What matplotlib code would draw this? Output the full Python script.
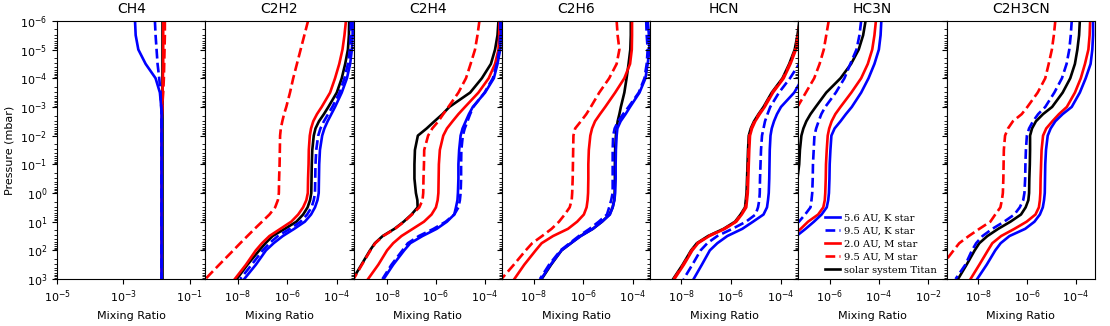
import numpy as np
import matplotlib
matplotlib.use("Agg")
import matplotlib.pyplot as plt
from matplotlib.ticker import NullLocator, LogLocator

# Pressure grid of every profile, log10(mbar)
LOG_P = [-6.0, -5.5, -5.0, -4.5, -4.0, -3.5, -3.0, -2.75, -2.5, -2.25, -2.0,
         -1.5, -1.0, -0.5, 0.0, 0.25, 0.5, 0.75, 1.0, 1.25, 1.5, 1.75, 2.0,
         2.5, 3.0]

SPECIES = ["CH4", "C2H2", "C2H4", "C2H6", "HCN", "HC3N", "C2H3CN"]
MODELS = ["5.6 AU, K star", "9.5 AU, K star", "2.0 AU, M star",
          "9.5 AU, M star", "solar system Titan"]

# ── log10 mixing ratio (None = off the panel) ──
ch4_k56 = [-2.65, -2.63, -2.55, -2.33, -2.03, -1.90, -1.86, -1.85, -1.85, -1.85,
           -1.85, -1.85, -1.85, -1.85, -1.85, -1.85, -1.85, -1.85, -1.85, -1.85,
           -1.85, -1.85, -1.85, -1.85, -1.85]
ch4_k95 = [-2.05, -2.03, -2.00, -1.97, -1.92, -1.88, -1.86, -1.85, -1.85, -1.85,
           -1.85, -1.85, -1.85, -1.85, -1.85, -1.85, -1.85, -1.85, -1.85, -1.85,
           -1.85, -1.85, -1.85, -1.85, -1.85]
ch4_m20 = [-1.80, -1.80, -1.80, -1.80, -1.81, -1.82, -1.83, -1.84, -1.85, -1.85,
           -1.85, -1.85, -1.85, -1.85, -1.85, -1.85, -1.85, -1.85, -1.85, -1.85,
           -1.85, -1.85, -1.85, -1.85, -1.85]
ch4_m95 = [-1.75, -1.75, -1.76, -1.77, -1.78, -1.80, -1.83, -1.84, -1.85, -1.85,
           -1.85, -1.85, -1.85, -1.85, -1.85, -1.85, -1.85, -1.85, -1.85, -1.85,
           -1.85, -1.85, -1.85, -1.85, -1.85]
ch4_titan = [-1.85, -1.85, -1.85, -1.85, -1.85, -1.85, -1.85, -1.85, -1.85, -1.85,
             -1.85, -1.85, -1.85, -1.85, -1.85, -1.85, -1.85, -1.85, -1.85, -1.85,
             -1.85, -1.85, -1.85, -1.85, -1.85]

c2h2_k56 = [-3.36, -3.36, -3.39, -3.46, -3.59, -3.80, -4.07, -4.22, -4.37, -4.50,
            -4.59, -4.68, -4.71, -4.72, -4.73, -4.78, -4.88, -5.04, -5.29, -5.72,
            -6.18, -6.55, -6.86, -7.27, -7.74]
c2h2_k95 = [-3.43, -3.44, -3.47, -3.55, -3.69, -3.89, -4.18, -4.35, -4.52, -4.66,
            -4.75, -4.83, -4.86, -4.87, -4.88, -4.93, -5.02, -5.20, -5.46, -5.90,
            -6.38, -6.72, -6.99, -7.44, -7.90]
c2h2_m20 = [-3.63, -3.69, -3.77, -3.90, -4.07, -4.27, -4.61, -4.80, -4.95, -5.04,
            -5.09, -5.13, -5.14, -5.16, -5.17, -5.23, -5.36, -5.56, -5.84, -6.28,
            -6.72, -7.02, -7.27, -7.67, -8.12]
c2h2_m95 = [-5.16, -5.31, -5.46, -5.61, -5.76, -5.89, -6.04, -6.13, -6.20, -6.26,
            -6.29, -6.30, -6.31, -6.33, -6.34, -6.38, -6.49, -6.72, -7.02, -7.32,
            -7.61, -7.90, -8.18, -8.75, -9.31]
c2h2_titan = [-3.50, -3.51, -3.55, -3.66, -3.80, -4.00, -4.34, -4.52, -4.72, -4.86,
              -4.93, -4.99, -5.01, -5.02, -5.03, -5.08, -5.18, -5.36, -5.63, -6.10,
              -6.59, -6.88, -7.13, -7.61, -8.04]

c2h4_k56 = [-3.34, -3.34, -3.37, -3.48, -3.63, -3.99, -4.49, -4.65, -4.78, -4.91,
            -4.99, -5.05, -5.08, -5.08, -5.10, -5.12, -5.18, -5.25, -5.55, -5.97,
            -6.55, -7.05, -7.30, -7.75, -8.14]
c2h4_k95 = [-3.37, -3.37, -3.40, -3.51, -3.67, -4.01, -4.47, -4.60, -4.71, -4.82,
            -4.90, -4.96, -4.97, -4.97, -4.99, -5.02, -5.08, -5.25, -5.60, -6.10,
            -6.70, -7.15, -7.37, -7.82, -8.19]
c2h4_m20 = [-3.40, -3.41, -3.44, -3.58, -3.84, -4.26, -4.81, -5.08, -5.32, -5.55,
            -5.70, -5.84, -5.88, -5.89, -5.90, -5.93, -6.00, -6.18, -6.49, -6.95,
            -7.41, -7.75, -8.00, -8.36, -8.78]
c2h4_m95 = [-4.22, -4.30, -4.40, -4.58, -4.77, -5.08, -5.49, -5.70, -5.90, -6.15,
            -6.32, -6.48, -6.49, -6.51, -6.52, -6.55, -6.68, -6.98, -7.30, -7.68,
            -8.16, -8.48, -8.68, -9.03, -9.37]
c2h4_titan = [-3.44, -3.48, -3.58, -3.75, -4.12, -4.60, -5.45, -5.73, -6.06, -6.38,
              -6.74, -6.86, -6.88, -6.88, -6.82, -6.76, -6.75, -7.00, -7.32, -7.70,
              -8.18, -8.50, -8.70, -9.05, -9.40]

c2h6_k56 = [-3.41, -3.36, -3.34, -3.41, -3.50, -3.74, -4.12, -4.30, -4.50, -4.63,
            -4.66, -4.69, -4.70, -4.70, -4.72, -4.75, -4.82, -4.93, -5.25, -5.62,
            -6.10, -6.50, -6.88, -7.32, -7.70]
c2h6_k95 = [-3.47, -3.45, -3.41, -3.45, -3.54, -3.77, -4.18, -4.40, -4.60, -4.74,
            -4.80, -4.82, -4.82, -4.82, -4.82, -4.88, -4.96, -5.05, -5.38, -5.75,
            -6.18, -6.55, -6.92, -7.38, -7.75]
c2h6_m20 = [-4.04, -4.04, -4.05, -4.12, -4.35, -4.72, -5.12, -5.33, -5.53, -5.65,
            -5.72, -5.78, -5.80, -5.80, -5.81, -5.83, -5.87, -5.98, -6.25, -6.62,
            -7.22, -7.68, -7.92, -8.38, -8.78]
c2h6_m95 = [-4.66, -4.62, -4.55, -4.66, -4.96, -5.36, -5.70, -5.88, -6.10, -6.33,
            -6.40, -6.41, -6.42, -6.43, -6.45, -6.47, -6.55, -6.75, -6.98, -7.28,
            -7.66, -8.06, -8.32, -8.80, -9.30]
c2h6_titan = [-4.09, -4.09, -4.11, -4.18, -4.26, -4.35, -4.49, -4.55, -4.62, -4.66,
              -4.69, -4.72, -4.73, -4.73, -4.74, -4.76, -4.82, -4.95, -5.25, -5.62,
              -6.12, -6.50, -6.88, -7.30, -7.68]

hcn_k56 = [-1.92, -2.19, -2.53, -2.80, -3.14, -3.47, -4.00, -4.16, -4.28, -4.37,
           -4.42, -4.45, -4.46, -4.47, -4.49, -4.52, -4.56, -4.70, -5.12, -5.55,
           -6.15, -6.55, -6.85, -7.17, -7.50]
hcn_k95 = [-2.46, -2.73, -3.00, -3.27, -3.64, -4.08, -4.43, -4.54, -4.64, -4.70,
           -4.76, -4.80, -4.82, -4.84, -4.85, -4.87, -4.92, -5.02, -5.40, -5.95,
           -6.55, -6.95, -7.22, -7.55, -7.90]
hcn_m20 = [-3.21, -3.29, -3.40, -3.62, -3.89, -4.32, -4.65, -4.85, -5.03, -5.16,
           -5.24, -5.27, -5.29, -5.31, -5.33, -5.36, -5.39, -5.57, -5.79, -6.25,
           -6.87, -7.32, -7.55, -7.89, -8.27]
hcn_m95 = [-3.24, -3.32, -3.43, -3.65, -3.92, -4.35, -4.68, -4.88, -5.06, -5.19,
           -5.27, -5.30, -5.32, -5.34, -5.36, -5.39, -5.42, -5.60, -5.82, -6.28,
           -6.90, -7.35, -7.58, -7.92, -8.30]
hcn_titan = [-3.26, -3.34, -3.45, -3.67, -3.94, -4.37, -4.70, -4.90, -5.08, -5.21,
             -5.29, -5.32, -5.34, -5.36, -5.38, -5.41, -5.44, -5.62, -5.84, -6.30,
             -6.92, -7.37, -7.60, -7.94, -8.32]

hc3n_k56 = [-3.90, -3.93, -4.00, -4.18, -4.42, -4.72, -5.10, -5.34, -5.56, -5.80,
            -5.93, -5.97, -6.00, -6.01, -6.03, -6.06, -6.12, -6.33, -6.64, -6.98,
            -7.35, -7.70, None, None, None]
hc3n_k95 = [-4.72, -4.79, -4.91, -5.16, -5.40, -5.75, -6.18, -6.34, -6.45, -6.55,
            -6.62, -6.65, -6.68, -6.69, -6.71, -6.74, -6.78, -7.00, -7.25, -7.60,
            None, None, None, None, None]
hc3n_m20 = [-4.12, -4.18, -4.27, -4.45, -4.72, -5.12, -5.56, -5.77, -5.92, -6.02,
            -6.08, -6.12, -6.15, -6.16, -6.18, -6.20, -6.26, -6.47, -6.88, -7.18,
            -7.50, None, None, None, None]
hc3n_m95 = [-6.04, -6.14, -6.24, -6.41, -6.63, -6.97, -7.31, -7.60, None, None,
            None, None, None, None, None, None, None, None, None, None,
            None, None, None, None, None]
hc3n_titan = [-4.54, -4.64, -4.82, -5.13, -5.56, -6.14, -6.57, -6.78, -6.95, -7.07,
              -7.15, -7.21, -7.24, -7.31, -7.60, None, None, None, None, None,
              None, None, None, None, None]

c2h3cn_k56 = [-3.31, -3.31, -3.34, -3.41, -3.61, -3.85, -4.18, -4.55, -4.85, -5.04,
              -5.16, -5.23, -5.26, -5.27, -5.28, -5.31, -5.36, -5.48, -5.70, -6.08,
              -6.72, -7.08, -7.30, -7.65, -8.04]
c2h3cn_k95 = [-4.18, -4.22, -4.28, -4.39, -4.58, -4.89, -5.26, -5.55, -5.76, -5.92,
              -6.01, -6.05, -6.07, -6.08, -6.11, -6.16, -6.30, -6.52, -6.94, -7.42,
              -7.82, -8.08, -8.25, -8.52, -8.92]
c2h3cn_m20 = [-3.43, -3.45, -3.50, -3.64, -3.81, -4.05, -4.38, -4.70, -4.97, -5.22,
              -5.35, -5.41, -5.43, -5.45, -5.46, -5.48, -5.52, -5.66, -6.02, -6.52,
              -7.06, -7.42, -7.60, -7.95, -8.31]
c2h3cn_m95 = [-4.85, -4.91, -4.99, -5.12, -5.26, -5.57, -5.99, -6.22, -6.58, -6.78,
              -6.90, -6.95, -6.96, -6.97, -6.99, -7.03, -7.09, -7.30, -7.50, -7.95,
              -8.38, -8.77, -9.00, -9.45, -9.89]
c2h3cn_titan = [-3.85, -3.88, -3.95, -4.05, -4.24, -4.55, -4.98, -5.35, -5.64, -5.80,
                -5.88, -5.88, -5.89, -5.91, -5.92, -5.95, -6.06, -6.25, -6.68, -7.18,
                -7.62, -7.95, -8.14, -8.47, -8.82]


def main():
    profiles = {
        "CH4":    [ch4_k56, ch4_k95, ch4_m20, ch4_m95, ch4_titan],
        "C2H2":   [c2h2_k56, c2h2_k95, c2h2_m20, c2h2_m95, c2h2_titan],
        "C2H4":   [c2h4_k56, c2h4_k95, c2h4_m20, c2h4_m95, c2h4_titan],
        "C2H6":   [c2h6_k56, c2h6_k95, c2h6_m20, c2h6_m95, c2h6_titan],
        "HCN":    [hcn_k56, hcn_k95, hcn_m20, hcn_m95, hcn_titan],
        "HC3N":   [hc3n_k56, hc3n_k95, hc3n_m20, hc3n_m95, hc3n_titan],
        "C2H3CN": [c2h3cn_k56, c2h3cn_k95, c2h3cn_m20, c2h3cn_m95, c2h3cn_titan],
    }
    colors = ["blue", "blue", "red", "red", "black"]
    styles = ["-", "--", "-", "--", "-"]
    draw_order = [4, 2, 3, 0, 1]          # Titan underneath everything

    # x range per panel (log10) and labelled decades
    xlims = [(-5.0, -0.53), (-9.31, -3.32), (-9.37, -3.30), (-9.28, -3.31),
             (-9.24, -3.30), (-7.27, -1.24), (-9.28, -3.23)]
    xticks = [(-5, -3, -1), (-8, -6, -4), (-8, -6, -4), (-8, -6, -4),
              (-8, -6, -4), (-6, -4, -2), (-8, -6, -4)]

    p = 10.0 ** np.array(LOG_P)

    fig, axes = plt.subplots(1, 7, figsize=(11.1, 3.26), dpi=100, sharey=True)
    fig.subplots_adjust(left=0.0514, right=0.9865, bottom=0.144, top=0.936,
                        wspace=0)

    for i, (ax, name) in enumerate(zip(axes, SPECIES)):
        lines = {}
        for k in draw_order:
            x = 10.0 ** np.array(profiles[name][k], dtype=float)
            (ln,) = ax.plot(x, p, color=colors[k], ls=styles[k], lw=1.9,
                            label=MODELS[k])
            lines[k] = ln

        ax.set_xscale("log"); ax.set_yscale("log")
        ax.set_xlim(10.0 ** xlims[i][0], 10.0 ** xlims[i][1])
        ax.set_xticks([10.0 ** t for t in xticks[i]])
        ax.xaxis.set_minor_locator(NullLocator())
        ax.tick_params(labelsize=8)
        ax.set_title(name, fontsize=10)
        ax.set_xlabel("Mixing Ratio", fontsize=8)

        if name == "HC3N":
            ax.legend([lines[k] for k in range(5)], MODELS, loc="lower right",
                      bbox_to_anchor=(0.955, 0.005), borderaxespad=0,
                      frameon=False, prop={"family": "DejaVu Serif", "size": 7.2},
                      handlelength=1.5, handletextpad=0.4, labelspacing=0.4,
                      borderpad=0.3)

    axes[0].set_ylim(1e3, 1e-6)
    axes[0].set_yticks(10.0 ** np.arange(-6, 4))
    axes[0].yaxis.set_minor_locator(LogLocator(base=10, subs=np.arange(2, 10),
                                               numticks=100))
    axes[0].set_ylabel("Pressure (mbar)", fontsize=8)

    fig.savefig("out.png", dpi=100)
    plt.close(fig)


if __name__ == "__main__":
    main()
